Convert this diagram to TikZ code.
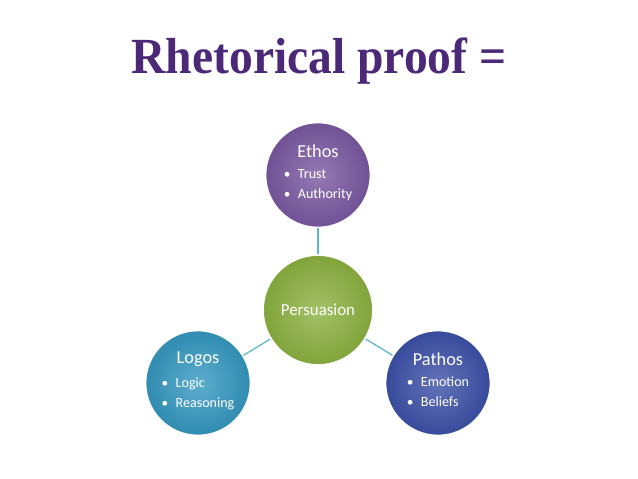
\documentclass[tikz,border=0pt]{standalone}
\usepackage{fontspec}
\setmainfont{Carlito}
\newfontfamily\titlefont{Liberation Serif}
\usetikzlibrary{positioning}

\definecolor{titlepurple}{RGB}{75,40,120}
\definecolor{ethoscol}{RGB}{122,88,162}
\definecolor{persuasioncol}{RGB}{140,178,64}
\definecolor{logoscol}{RGB}{52,152,192}
\definecolor{pathoscol}{RGB}{60,80,168}
\definecolor{linkcol}{RGB}{92,182,204}

% circle text: heading over two bullet points
\newcommand{\bul}{\makebox[10pt][l]{\fontsize{9.5}{9}\selectfont\textbullet}}
\newcommand{\circtext}[3]{{\fontsize{13}{15}\selectfont #1}\\[3.5pt]
  {\fontsize{10}{14.5}\selectfont\begin{tabular}{@{}l@{}}\bul #2\\ \bul #3\end{tabular}}}

\begin{document}
\begin{tikzpicture}[
  x=0.025cm,y=-0.025cm,
  bubble/.style={circle,minimum size=105*0.025cm,inner sep=0pt,draw=white,line width=1.2pt,
    text=white,align=center,inner color=#1!80!white,outer color=#1!92!black},
  link/.style={draw=linkcol,line width=0.9pt}
]
\useasboundingbox (0,0) rectangle (638,479);
\node[font=\titlefont\bfseries\fontsize{36}{40}\selectfont,text=titlepurple] (title) at (319,61) {\scalebox{0.94}[1]{Rhetorical proof =}};
\node[bubble=persuasioncol,minimum size=110*0.025cm] (persuasion) at (318,310) {{\fontsize{12}{14}\selectfont Persuasion}};
\node[bubble=ethoscol] (ethos) at (318,175) {\circtext{Ethos}{Trust}{Authority}};
\node[bubble=logoscol] (logos) at (198,383) {\circtext{Logos}{Logic}{Reasoning}};
\node[bubble=pathoscol] (pathos) at (438,383) {\circtext{Pathos}{Emotion}{Beliefs}};
\draw[link] (ethos) -- (persuasion);
\draw[link] (logos) -- (persuasion);
\draw[link] (pathos) -- (persuasion);
\end{tikzpicture}
\end{document}
